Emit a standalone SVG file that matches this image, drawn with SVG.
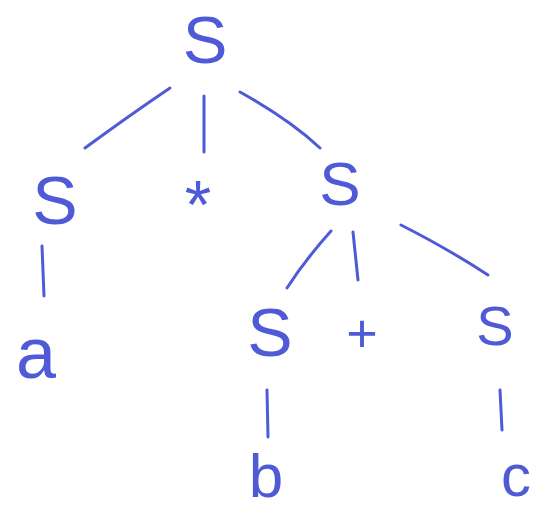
<svg xmlns="http://www.w3.org/2000/svg" width="537" height="512" viewBox="0 0 537 512">
<style>
.t{font-family:"Liberation Sans",Arial,sans-serif;fill:#4f5ad6;text-anchor:middle}
.e{fill:none;stroke:#4f5ad6;stroke-width:3;stroke-linecap:round}
</style>
<rect width="537" height="512" fill="#ffffff"/>
<g id="edges">
<path class="e" d="M170,88 Q130,115 85,148"/>
<path class="e" d="M204,96 L204,152"/>
<path class="e" d="M240,92 Q290,120 320,148"/>
<path class="e" d="M42,246 L44,296"/>
<path class="e" d="M331,231 Q305,260 287,288"/>
<path class="e" d="M353,232 L358,280"/>
<path class="e" d="M401,225 Q450,250 488,275"/>
<path class="e" d="M267,390 L268,437"/>
<path class="e" d="M500,390 L502,430"/>
</g>
<g id="n-root"><text class="t" x="205" y="63" font-size="67">S</text></g>
<g id="n-left-s"><text class="t" x="55" y="224" font-size="68">S</text></g>
<g id="n-star"><text class="t" x="198" y="228" font-size="68">*</text></g>
<g id="n-right-s"><text class="t" x="340" y="205" font-size="62">S</text></g>
<g id="n-a"><text class="t" x="36" y="378" font-size="72">a</text></g>
<g id="n-s-b"><text class="t" x="270" y="356" font-size="68">S</text></g>
<g id="n-plus"><text class="t" x="362" y="352" font-size="54">+</text></g>
<g id="n-s-c"><text class="t" x="495" y="345" font-size="56">S</text></g>
<g id="n-b"><text class="t" x="266" y="497" font-size="62">b</text></g>
<g id="n-c"><text class="t" x="516" y="496" font-size="60">c</text></g>
</svg>
